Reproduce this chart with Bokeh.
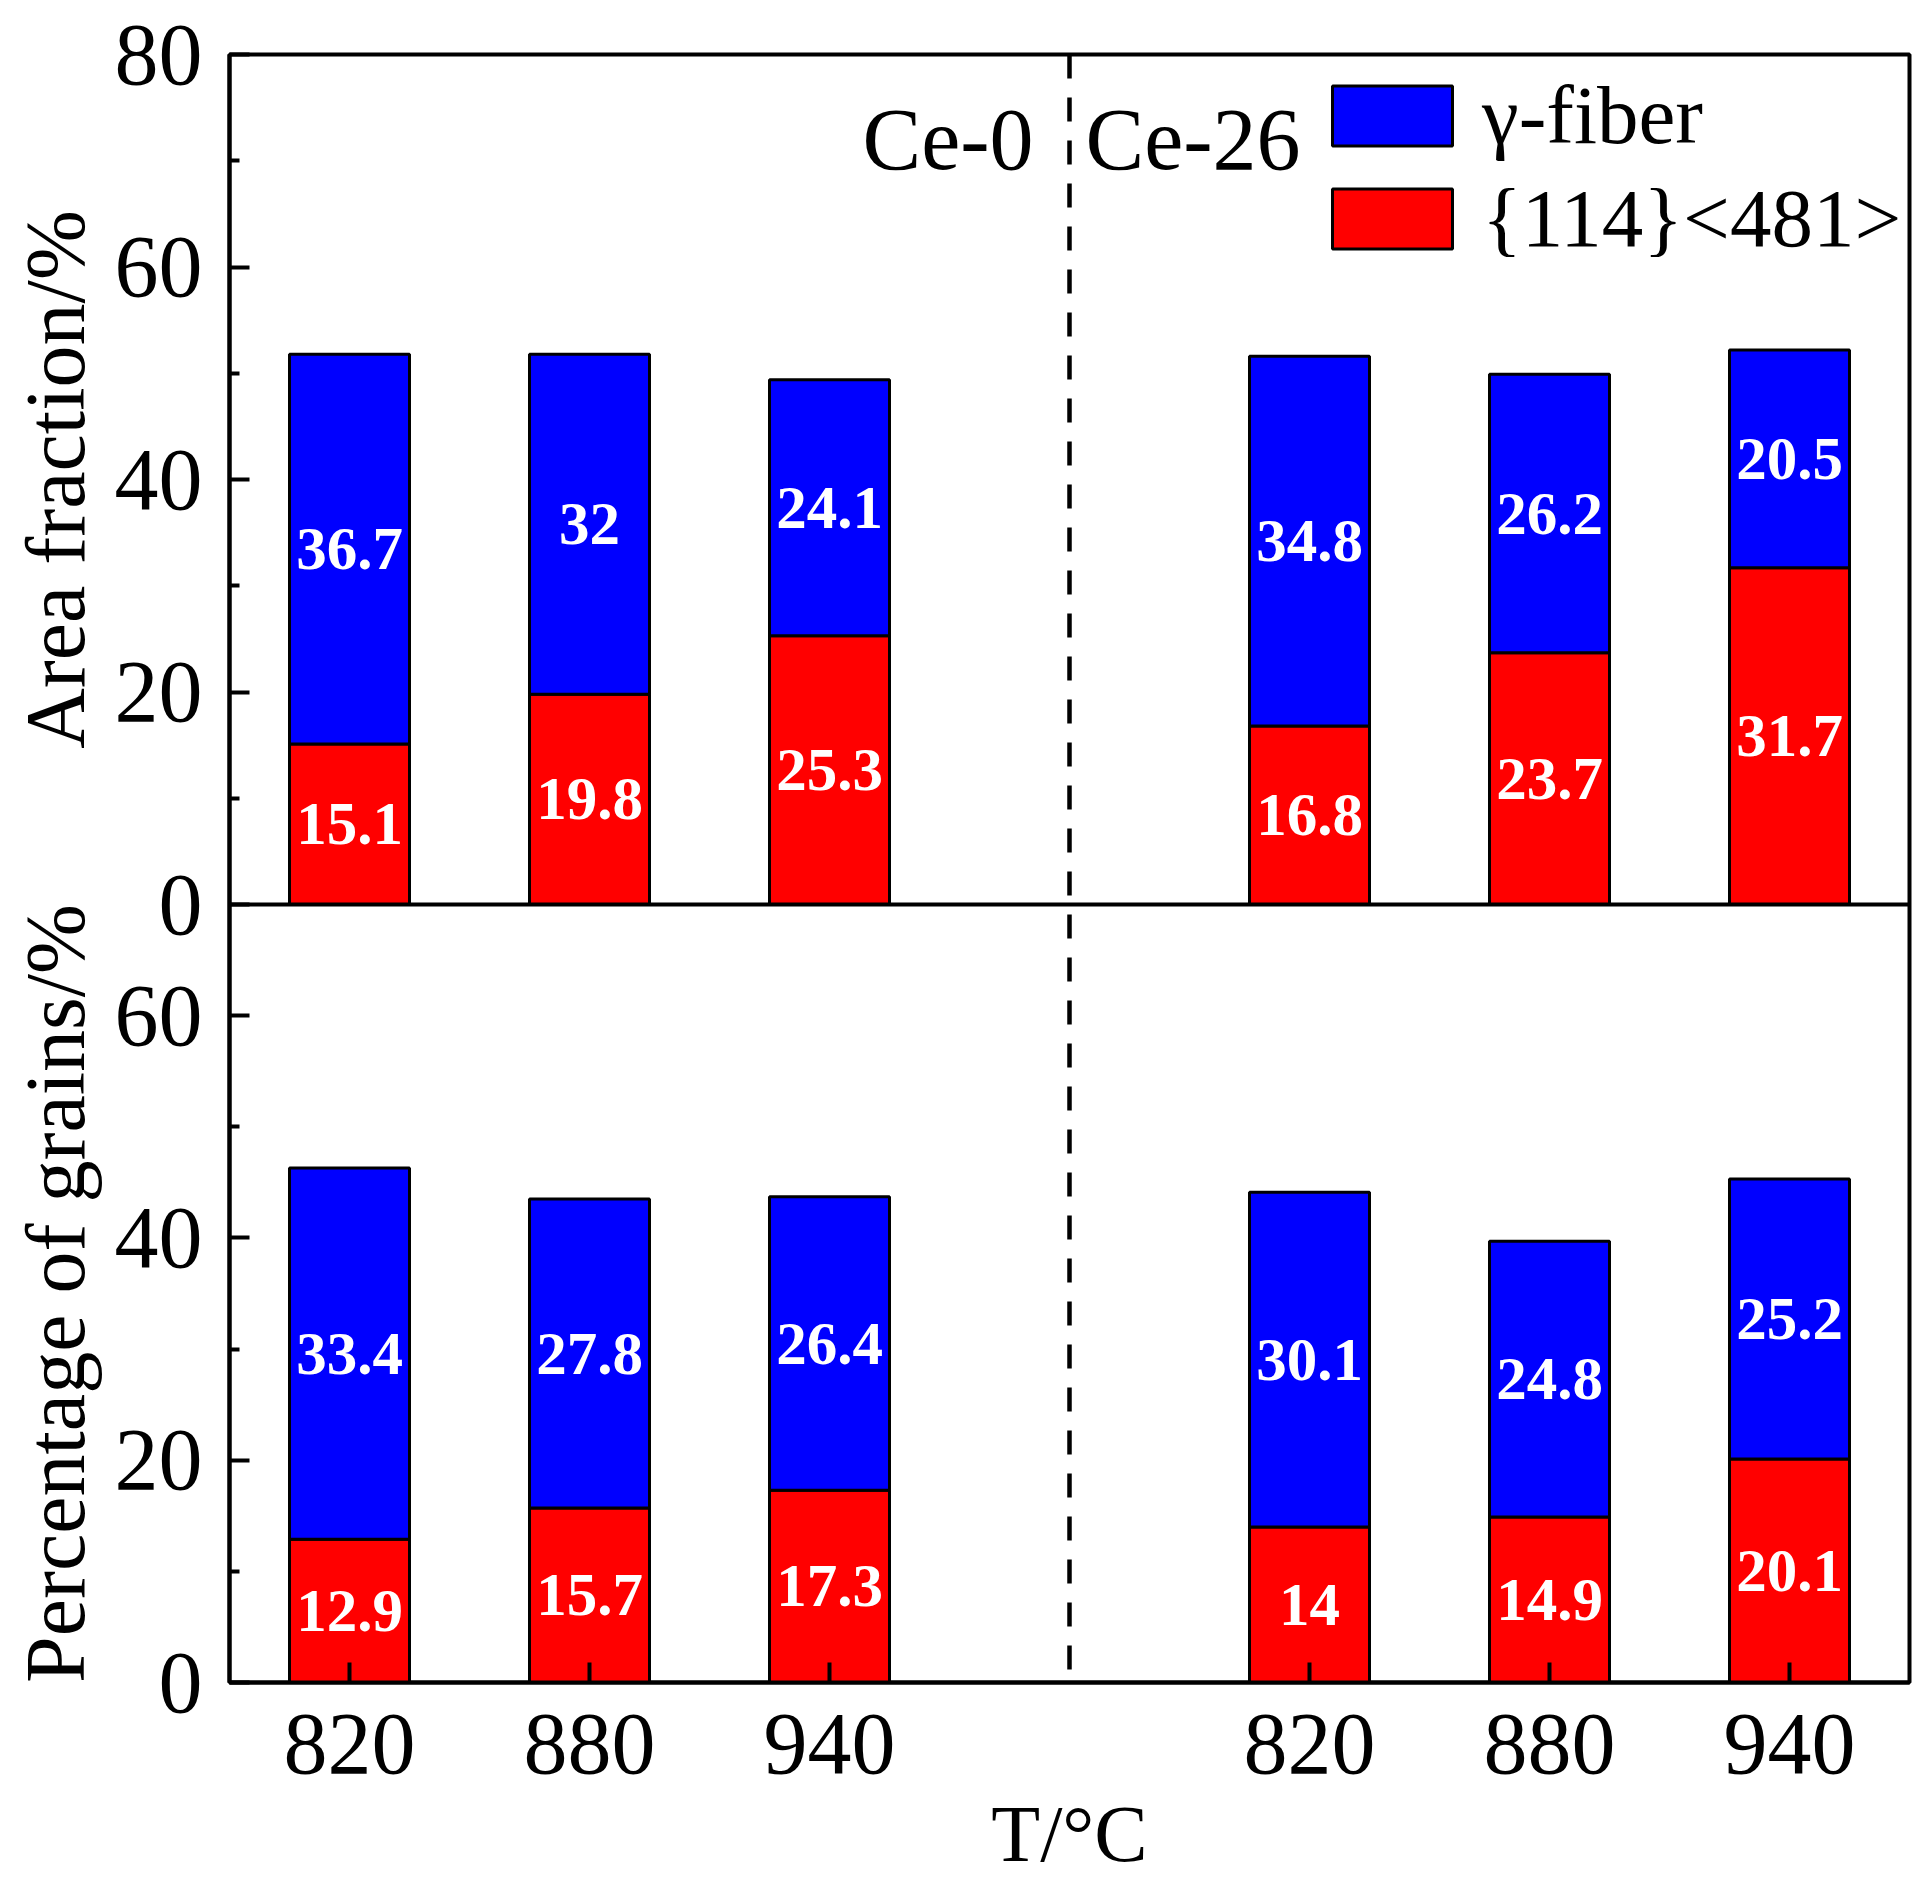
import math
from bokeh.plotting import figure
from bokeh.layouts import row
from bokeh.models import (ColumnDataSource, Range1d, FixedTicker, Span,
                          Legend, LegendItem, Label)
from bokeh.core.properties import value
from bokeh.embed import file_html
from bokeh.resources import INLINE

# data
temps = ["820", "880", "940", "820", "880", "940"]
x_pos = [1, 2, 3, 5, 6, 7]          # Ce-0 at 1-3, Ce-26 at 5-7
area_114 = [15.1, 19.8, 25.3, 16.8, 23.7, 31.7]
area_gamma = [36.7, 32, 24.1, 34.8, 26.2, 20.5]
grains_114 = [12.9, 15.7, 17.3, 14, 14.9, 20.1]
grains_gamma = [33.4, 27.8, 26.4, 30.1, 24.8, 25.2]
alloys = ["Ce-0", "Ce-26"]
series = ["γ-fiber", "{114}<481>"]
y_titles = ["Area fraction/%", "Percentage of grains/%"]

FONT = "Liberation Serif"
BLUE = "#0000ff"
RED = "#ff0000"

# two stacked panels share one frame: top panel 0-80, bottom panel 0-70
TOP_MAX, BOT_MAX = 80, 70
TOP_H, BOT_H = 850, 778            # panel heights in px
FRAME_H = TOP_H + BOT_H
BORDER_TOP, BORDER_BOTTOM = 54, 200
TITLE_W = 110


def top_to_bot(v):
    # value of the top panel -> value on the main (bottom) y range
    return BOT_MAX + v * (BOT_MAX / BOT_H) * (TOP_H / TOP_MAX)


def clean(t):
    t = round(t, 6)
    return int(t) if float(t).is_integer() else t


y_end = clean(top_to_bot(TOP_MAX))
top_start = -TOP_MAX * BOT_H / TOP_H

p = figure(frame_width=1680, frame_height=FRAME_H,
           x_range=Range1d(0.5, 7.5), y_range=Range1d(0, y_end),
           output_backend="svg", toolbar_location=None,
           min_border_left=229 - TITLE_W, min_border_right=10,
           min_border_top=BORDER_TOP, min_border_bottom=BORDER_BOTTOM,
           outline_line_color="black", outline_line_width=4)
p.extra_y_ranges = {"top": Range1d(top_start, TOP_MAX)}
p.xgrid.visible = False
p.ygrid.visible = False


def stacked(red, blue, rng):
    src = ColumnDataSource(dict(
        x=x_pos, r=red, tot=[a + b for a, b in zip(red, blue)],
        rmid=[a / 2 for a in red],
        bmid=[a + b / 2 for a, b in zip(red, blue)],
        rlab=[str(a) for a in red], blab=[str(b) for b in blue]))
    kw = dict(source=src, width=0.5, line_color="black", line_width=3)
    if rng:
        kw["y_range_name"] = rng
    rb = p.vbar(x="x", bottom=0, top="r", fill_color=RED, **kw)
    bb = p.vbar(x="x", bottom="r", top="tot", fill_color=BLUE, **kw)
    tkw = dict(source=src, text_color="white", text_font=value(FONT),
               text_font_style="bold", text_font_size="61px",
               text_align="center", text_baseline="middle")
    if rng:
        tkw["y_range_name"] = rng
    p.text(x="x", y="rmid", text="rlab", **tkw)
    p.text(x="x", y="bmid", text="blab", **tkw)
    return rb, bb


red_top, blue_top = stacked(area_114, area_gamma, "top")
stacked(grains_114, grains_gamma, None)

# y axis: ticks of both panels on the one left axis
major, minor, overrides = [], [], {}
for v in (0, 20, 40, 60):
    major.append(v)
    overrides[v] = str(v)
for v in (0, 20, 40, 60, 80):
    t = clean(top_to_bot(v))
    major.append(t)
    overrides[t] = str(v)
minor = [10, 30, 50] + [clean(top_to_bot(v)) for v in (10, 30, 50, 70)]

yax = p.yaxis[0]
yax.ticker = FixedTicker(ticks=major, minor_ticks=minor)
yax.major_label_overrides = overrides
yax.axis_line_width = 4
yax.major_tick_line_width = 4
yax.minor_tick_line_width = 4
yax.major_tick_in = 20
yax.major_tick_out = 0
yax.minor_tick_in = 10
yax.minor_tick_out = 0
yax.major_label_standoff = 27
yax.major_label_text_font = FONT
yax.major_label_text_font_size = "88px"
yax.major_label_text_color = "black"

xax = p.xaxis[0]
xax.ticker = FixedTicker(ticks=x_pos, minor_ticks=[])
xax.major_label_overrides = {x: t for x, t in zip(x_pos, temps)}
xax.axis_line_width = 4
xax.major_tick_line_width = 4
xax.major_tick_in = 20
xax.major_tick_out = 0
xax.minor_tick_in = 0
xax.minor_tick_out = 0
xax.major_label_standoff = 32
xax.major_label_text_font = FONT
xax.major_label_text_font_size = "88px"
xax.major_label_text_color = "black"
xax.axis_label = "T/°C"
xax.axis_label_standoff = 14
xax.axis_label_text_font = FONT
xax.axis_label_text_font_size = "80px"
xax.axis_label_text_font_style = "normal"
xax.axis_label_text_color = "black"

# panel divider and alloy divider
p.add_layout(Span(location=BOT_MAX, dimension="width",
                  line_color="black", line_width=4))
p.add_layout(Span(location=4, dimension="height", line_color="black",
                  line_width=4.5, line_dash="24 19"))

# alloy names on each side of the dashed line
p.add_layout(Label(x=4, y=72, y_range_name="top", x_offset=-36,
                   text=alloys[0], text_align="right", text_baseline="alphabetic",
                   text_font=FONT, text_font_size="88px", text_color="black"))
p.add_layout(Label(x=4, y=72, y_range_name="top", x_offset=16,
                   text=alloys[1], text_align="left", text_baseline="alphabetic",
                   text_font=FONT, text_font_size="88px", text_color="black"))

legend = Legend(items=[LegendItem(label=series[0], renderers=[blue_top]),
                       LegendItem(label=series[1], renderers=[red_top])],
                location=(1088, 1416), glyph_width=150, glyph_height=75,
                label_standoff=15, padding=0, spacing=7, margin=0,
                border_line_color=None, background_fill_alpha=0,
                label_text_font=FONT, label_text_font_size="83px",
                label_text_color="black")
p.add_layout(legend)

# narrow strip at the left holding one y title per panel
t = figure(frame_width=TITLE_W, frame_height=FRAME_H,
           x_range=Range1d(0, TITLE_W), y_range=p.y_range,
           output_backend="svg", toolbar_location=None,
           min_border_left=0, min_border_right=0,
           min_border_top=BORDER_TOP, min_border_bottom=BORDER_BOTTOM,
           x_axis_location=None, y_axis_location=None,
           outline_line_color=None)
t.extra_y_ranges = {"top": p.extra_y_ranges["top"]}
t.xgrid.visible = False
t.ygrid.visible = False
tkw = dict(angle=math.pi / 2, text_align="center", text_baseline="middle",
           text_font=value(FONT), text_font_size="84px", text_color="black")
t.text(x=[55], y=[TOP_MAX / 2], text=[y_titles[0]], y_range_name="top", **tkw)
t.text(x=[55], y=[BOT_MAX / 2], text=[y_titles[1]], **tkw)

layout = row(t, p)
open("out.html", "w").write(file_html(layout, INLINE))
